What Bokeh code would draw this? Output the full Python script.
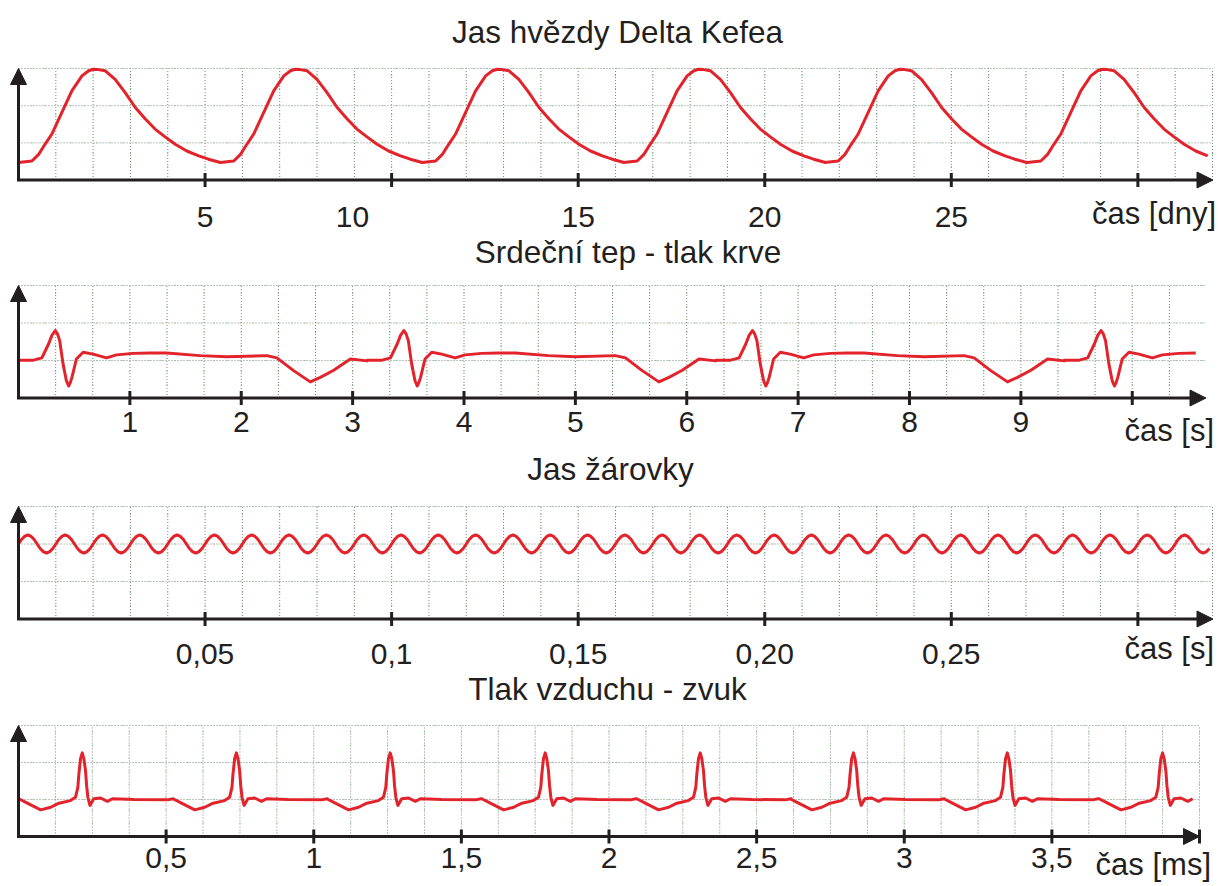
from bokeh.plotting import figure
from bokeh.layouts import column
from bokeh.models import Arrow, NormalHead, Range1d
from bokeh.core.properties import value
from bokeh.embed import file_html
from bokeh.resources import INLINE

# ---------------- data (y in grid cells above the time axis) ----------------
# Panel 1: Jas hvězdy Delta Kefea  (time in days)
star_peak_days = [2.01, 7.42, 12.83, 18.23, 23.62, 29.05]
star_shape_dt = [-2.01, -1.65, -1.47, -1.30, -1.12, -0.85, -0.58, -0.31, -0.13, 0.00,
                 0.13, 0.31, 0.58, 0.85, 1.12, 1.39, 1.65, 1.92, 2.19, 2.50, 2.82, 3.08, 3.40]
star_shape_y = [0.47, 0.51, 0.69, 0.96, 1.23, 1.81, 2.40, 2.80, 2.94, 2.98,
                2.97, 2.94, 2.71, 2.35, 1.95, 1.64, 1.37, 1.16, 0.96, 0.78, 0.65, 0.56, 0.47]
star_ticks = [5, 10, 15, 20, 25, 30]
star_tick_labels = ["5", "10", "15", "20", "25"]
star_tick_label_days = [5, 8.95, 15, 20, 25]

# Panel 2: Srdeční tep - tlak krve  (time in s)
pulse_beat_starts_s = [0.00, 3.13, 6.26, 9.39]
pulse_shape_dt = [0.00, 0.135, 0.21, 0.27, 0.30, 0.33, 0.35, 0.37, 0.40, 0.43, 0.45, 0.465, 0.48,
                  0.52, 0.58, 0.67, 0.79, 0.88, 1.03, 1.18, 1.33, 1.63, 1.87, 2.23, 2.32, 2.47,
                  2.62, 2.71, 2.83, 2.98, 3.13]
pulse_shape_y = [1.01, 1.01, 1.07, 1.44, 1.67, 1.80, 1.71, 1.53, 0.91, 0.46, 0.32, 0.41, 0.55,
                 1.04, 1.22, 1.17, 1.07, 1.15, 1.19, 1.20, 1.20, 1.13, 1.10, 1.13, 1.07, 0.73,
                 0.43, 0.55, 0.74, 1.04, 0.99]
pulse_ticks = [1, 2, 3, 4, 5, 6, 7, 8, 9, 10]
pulse_tick_labels = ["1", "2", "3", "4", "5", "6", "7", "8", "9"]
pulse_tick_label_s = [1, 2, 3, 4, 5, 6, 7, 8, 9]

# Panel 3: Jas žárovky  (time in s)
lamp_cycle_starts_s = [0.00, 0.01, 0.02, 0.03, 0.04, 0.05, 0.06, 0.07, 0.08, 0.09,
                       0.10, 0.11, 0.12, 0.13, 0.14, 0.15, 0.16, 0.17, 0.18, 0.19,
                       0.20, 0.21, 0.22, 0.23, 0.24, 0.25, 0.26, 0.27, 0.28, 0.29,
                       0.30, 0.31]
lamp_shape_dt = [0.0000, 0.0008, 0.0017, 0.0025, 0.0033, 0.0042,
                 0.0050, 0.0058, 0.0067, 0.0075, 0.0083, 0.0092]
lamp_shape_y = [2.00, 2.12, 2.21, 2.24, 2.21, 2.12, 2.00, 1.88, 1.79, 1.76, 1.79, 1.88]
lamp_ticks = [0.05, 0.1, 0.15, 0.2, 0.25, 0.3]
lamp_tick_labels = ["0,05", "0,1", "0,15", "0,20", "0,25"]
lamp_tick_label_s = [0.05, 0.1, 0.15, 0.2, 0.25]

# Panel 4: Tlak vzduchu - zvuk  (time in ms)
sound_spike_ms = [0.216, 0.738, 1.259, 1.784, 2.309, 2.828, 3.349, 3.875]
sound_shape_dt = [-0.215, -0.186, -0.141, -0.107, -0.079, -0.040, -0.023, -0.015, -0.0115,
                  -0.006, 0.000, 0.0054, 0.011, 0.0146, 0.019, 0.026, 0.039, 0.062, 0.085,
                  0.102, 0.175, 0.288, 0.308]
sound_shape_y = [1.02, 0.90, 0.72, 0.79, 0.90, 0.97, 1.06, 1.33, 1.69,
                 2.10, 2.26, 2.10, 1.78, 1.38, 1.06, 0.84, 1.02, 1.04, 0.95,
                 1.02, 1.00, 0.99, 1.02]
sound_ticks = [0.5, 1, 1.5, 2, 2.5, 3, 3.5, 4]
sound_tick_labels = ["0,5", "1", "1,5", "2", "2,5", "3", "3,5"]
sound_tick_label_ms = [0.5, 1, 1.5, 2, 2.5, 3, 3.5]

titles = ["Jas hvězdy Delta Kefea", "Srdeční tep - tlak krve", "Jas žárovky", "Tlak vzduchu - zvuk"]
unit_labels = ["čas [dny]", "čas [s]", "čas [s]", "čas [ms]"]

# ---------------- styling / layout ----------------
INK = "#231f20"
RED = "#e3232b"
FONT = "Liberation Sans"
PAGE_L, PAGE_R = 0, 1218          # canvas spans these page pixels horizontally
N_CELLS = 32
TEXT_DY = -12                     # correction so the drawn baseline lands on the target


def tile(starts, dt, y):
    xs, ys = [], []
    for s in starts:
        xs.extend(s + d for d in dt)
        ys.extend(y)
    return xs, ys


def make_panel(g, title, x_end, xs, ys, ticks, tick_label_x, tick_labels, unit_label):
    x0, x1, base, top = g["x0"], g["x1"], g["base"], g["top"]

    def fx(px):
        return x_end * (px - x0) / (x1 - x0)

    def fy(py):
        return 3.0 * (base - py) / (base - top)

    p = figure(width=PAGE_R - PAGE_L, height=g["bot"] - g["fig_top"],
               x_range=Range1d(fx(PAGE_L), fx(PAGE_R)),
               y_range=Range1d(fy(g["bot"]), fy(g["fig_top"])),
               min_border=0, x_axis_location=None, y_axis_location=None,
               output_backend="svg", toolbar_location=None,
               outline_line_color=None, background_fill_color="white",
               border_fill_color="white")
    p.grid.visible = False

    x_vis = fx(g["tip"])
    cell = x_end / N_CELLS
    gx = [cell * i for i in range(1, N_CELLS + 1) if cell * i <= x_vis + 1e-9]
    v_xs = [[x, x] for x in gx]
    v_ys = [[0, 3] for _ in gx]
    h_xs = [[0, min(x_end, x_vis)] for _ in (1, 2, 3)]
    h_ys = [[k, k] for k in (1, 2, 3)]
    for color, dash in (("#858585", "1 2"), ("#55d055", "1 12")):
        p.multi_line(v_xs + h_xs, v_ys + h_ys, line_color=color, line_dash=dash, line_width=1)

    keep = [i for i, x in enumerate(xs) if 0 <= x <= x_vis]
    p.line([xs[i] for i in keep], [ys[i] for i in keep], line_color=RED, line_width=3,
           line_join="round")

    # axes with arrow heads
    p.add_layout(Arrow(end=NormalHead(size=16, fill_color=INK, line_color=INK, line_width=1),
                       x_start=fx(x0 - 1.5), y_start=0, x_end=x_vis, y_end=0,
                       line_color=INK, line_width=3))
    p.add_layout(Arrow(end=NormalHead(size=16, fill_color=INK, line_color=INK, line_width=1),
                       x_start=0, y_start=0, x_end=0, y_end=3,
                       line_color=INK, line_width=3))
    p.segment(x0=ticks, y0=[fy(base + 7)] * len(ticks), x1=ticks, y1=[fy(base - 7)] * len(ticks),
              line_color=INK, line_width=3)

    p.text(x=tick_label_x, y=[fy(g["tick_base"] + TEXT_DY)] * len(tick_label_x), text=tick_labels,
           text_align="center", text_baseline="alphabetic", text_font=value(FONT),
           text_font_size=value("30px"), text_color=INK)
    p.text(x=[fx(g["title_cx"])], y=[fy(g["title_base"] + TEXT_DY)], text=[title],
           text_align="center", text_baseline="alphabetic", text_font=value(FONT),
           text_font_size=value("31.5px"), text_color=INK)
    p.text(x=[fx(g["unit_right"])], y=[fy(g["unit_base"] + TEXT_DY)], text=[unit_label],
           text_align="right", text_baseline="alphabetic", text_font=value(FONT),
           text_font_size=value("31px"), text_color=INK)
    return p


geoms = [
    dict(fig_top=0, bot=234, x0=18, x1=1212, tip=1212.5, base=179.5, top=68,
         tick_base=228, title_cx=617, title_base=43, unit_base=225, unit_right=1215.5),
    dict(fig_top=234, bot=450, x0=18, x1=1206, tip=1205.5, base=397.5, top=285,
         tick_base=433, title_cx=627.5, title_base=263, unit_base=441.5, unit_right=1213.5),
    dict(fig_top=450, bot=672, x0=18, x1=1212, tip=1212.5, base=618.5, top=506,
         tick_base=665.5, title_cx=610, title_base=480, unit_base=660, unit_right=1213.5),
    dict(fig_top=672, bot=885, x0=18, x1=1199, tip=1199, base=836, top=725,
         tick_base=869.5, title_cx=607, title_base=700, unit_base=876, unit_right=1210.5),
]

x1d, y1d = tile(star_peak_days, star_shape_dt, star_shape_y)
x2d, y2d = tile(pulse_beat_starts_s, pulse_shape_dt, pulse_shape_y)
x3d, y3d = tile(lamp_cycle_starts_s, lamp_shape_dt, lamp_shape_y)
x4d, y4d = tile(sound_spike_ms, sound_shape_dt, sound_shape_y)

p1 = make_panel(geoms[0], titles[0], 32, x1d, y1d, star_ticks, star_tick_label_days,
                star_tick_labels, unit_labels[0])
p2 = make_panel(geoms[1], titles[1], 32 / 3, x2d, y2d, pulse_ticks, pulse_tick_label_s,
                pulse_tick_labels, unit_labels[1])
p3 = make_panel(geoms[2], titles[2], 0.32, x3d, y3d, lamp_ticks, lamp_tick_label_s,
                lamp_tick_labels, unit_labels[2])
p4 = make_panel(geoms[3], titles[3], 4.0, x4d, y4d, sound_ticks, sound_tick_label_ms,
                sound_tick_labels, unit_labels[3])

layout = column(p1, p2, p3, p4, spacing=0)
open("out.html", "w").write(file_html(layout, INLINE))
